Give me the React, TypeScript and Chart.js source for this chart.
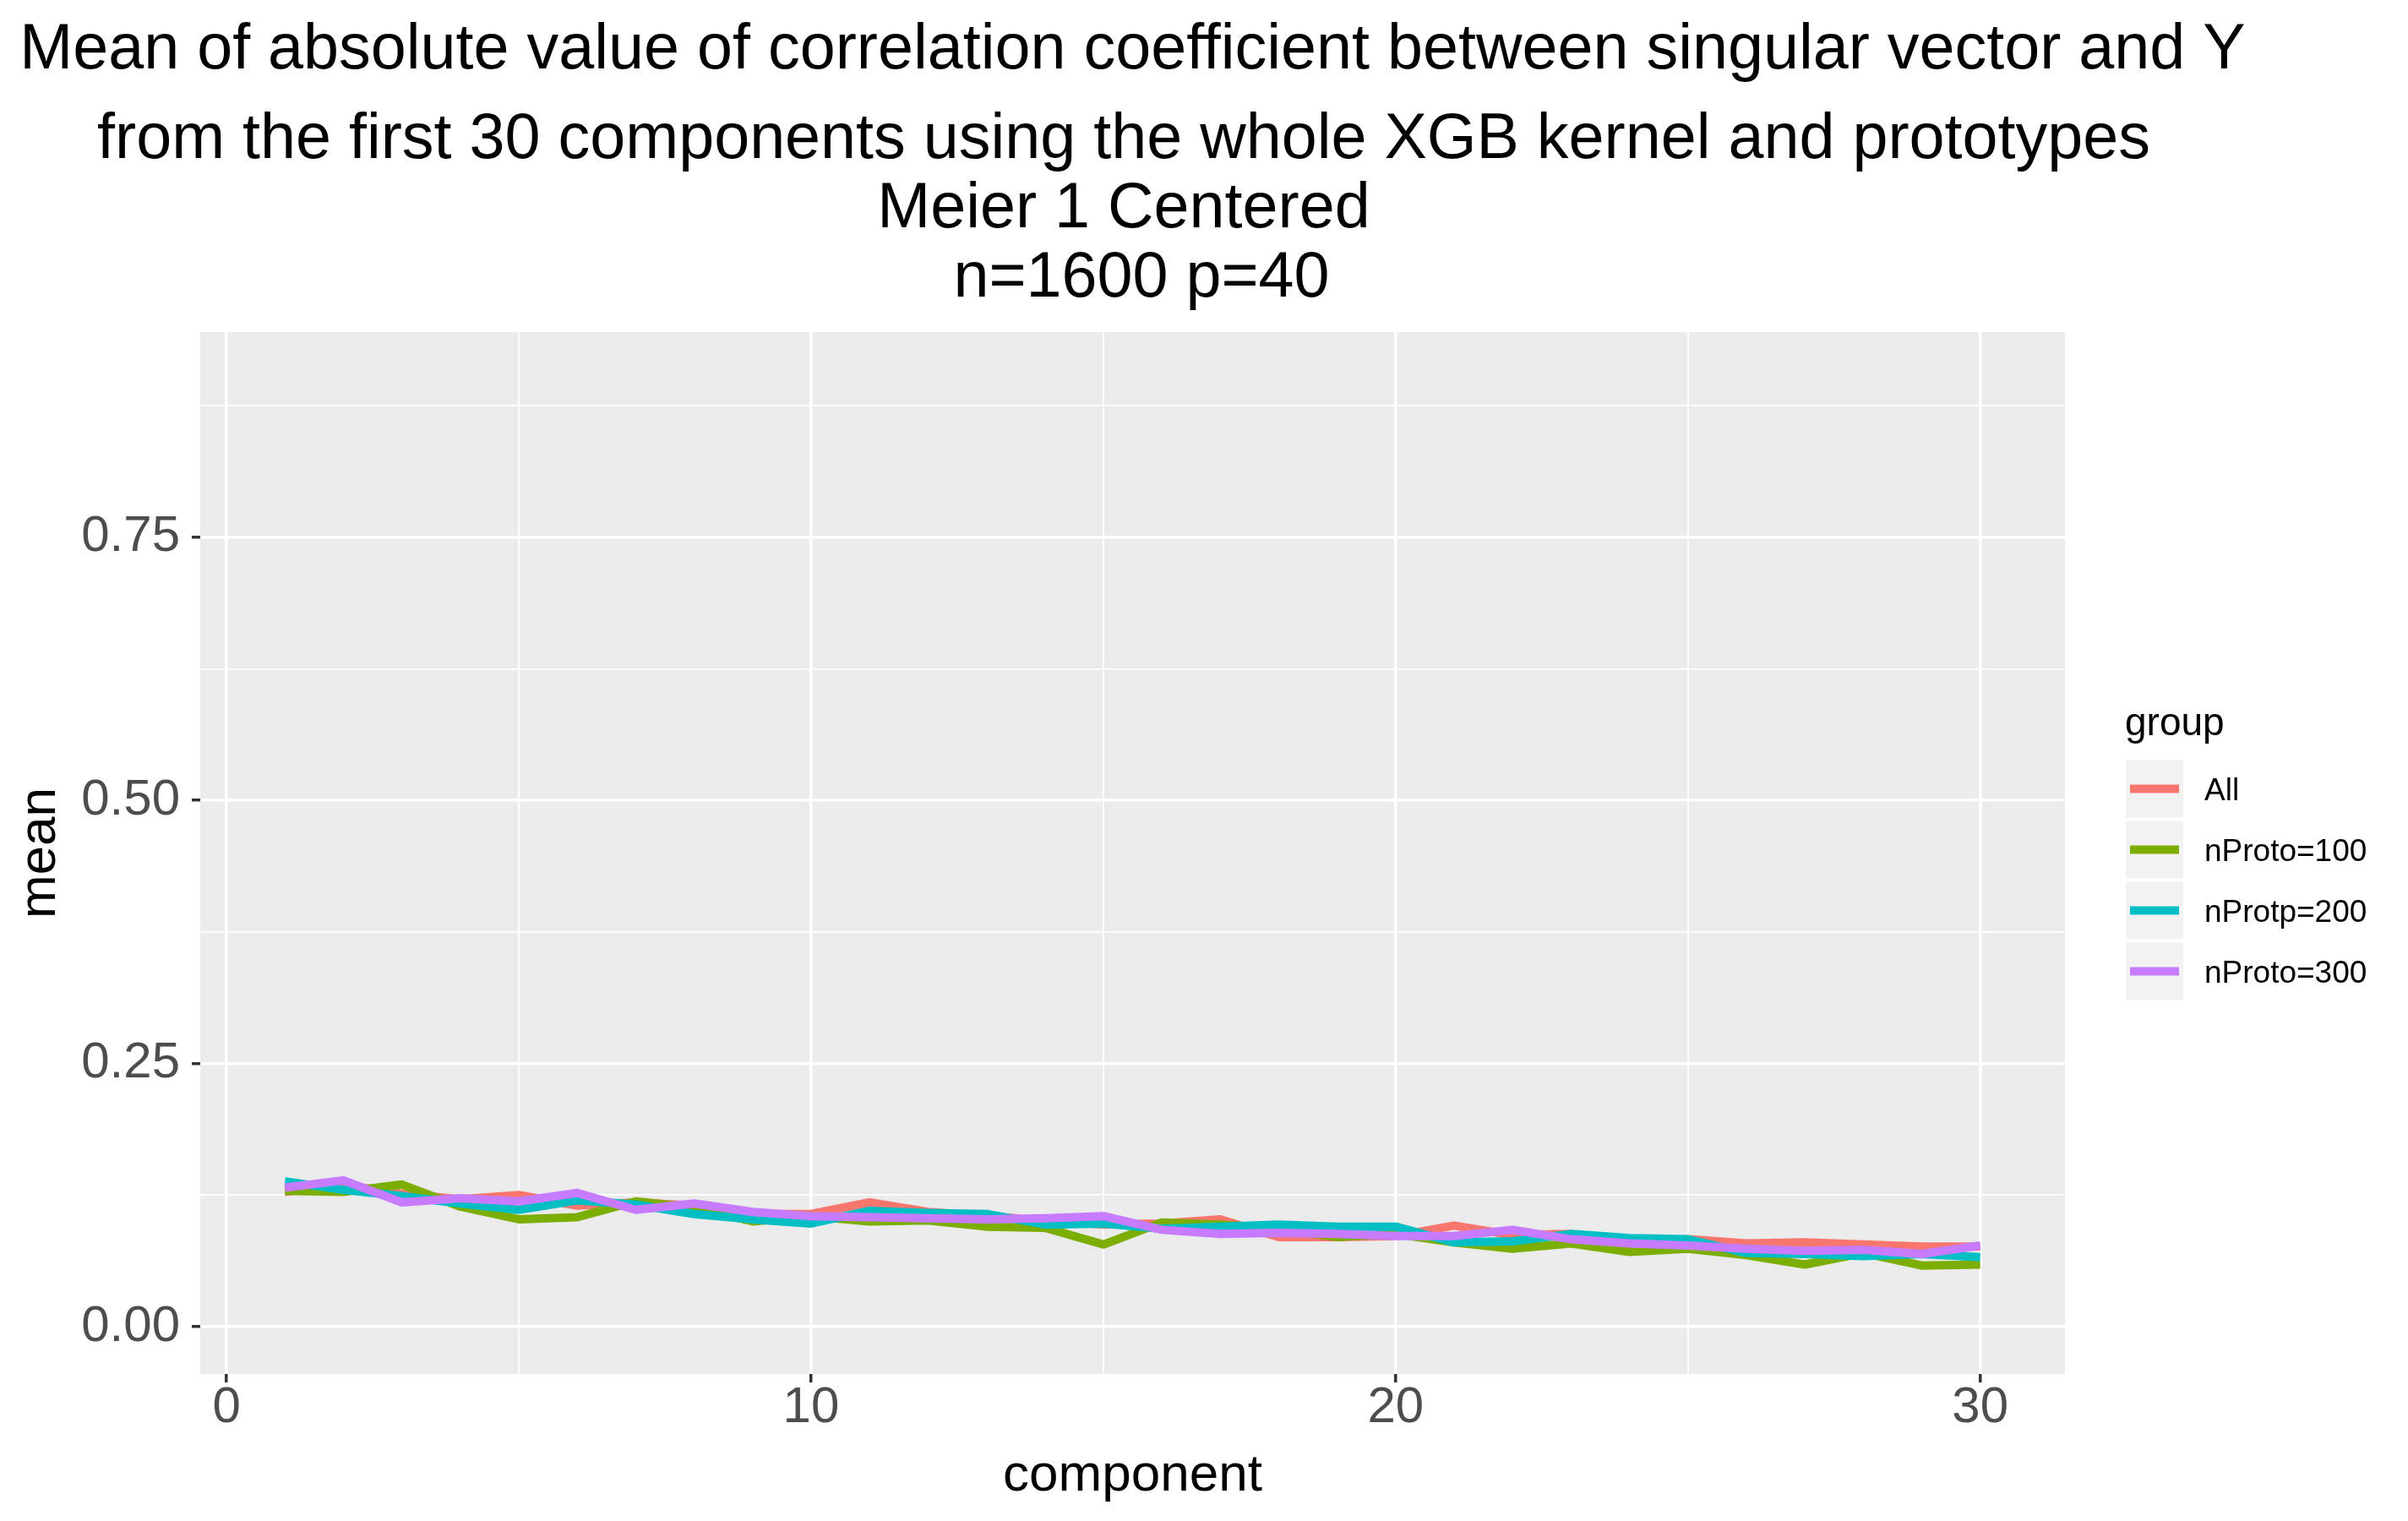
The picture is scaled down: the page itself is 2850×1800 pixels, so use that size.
import React, { useEffect, useRef } from "react";
import { Chart, registerables } from "chart.js";

Chart.register(...registerables);

// data
const components = [1, 2, 3, 4, 5, 6, 7, 8, 9, 10, 11, 12, 13, 14, 15, 16, 17, 18, 19, 20, 21, 22, 23, 24, 25, 26, 27, 28, 29, 30];
const allValues = [0.128, 0.135, 0.126, 0.121, 0.125, 0.115, 0.118, 0.115, 0.107, 0.107, 0.118, 0.109, 0.105, 0.101, 0.097, 0.098, 0.102, 0.085, 0.085, 0.086, 0.096, 0.087, 0.088, 0.079, 0.083, 0.079, 0.080, 0.078, 0.076, 0.076];
const nProto100 = [0.129, 0.128, 0.135, 0.114, 0.102, 0.104, 0.119, 0.113, 0.100, 0.105, 0.100, 0.101, 0.095, 0.094, 0.078, 0.099, 0.097, 0.093, 0.085, 0.088, 0.080, 0.074, 0.079, 0.071, 0.074, 0.068, 0.059, 0.070, 0.058, 0.059];
const nProtp200 = [0.138, 0.130, 0.124, 0.117, 0.111, 0.120, 0.116, 0.107, 0.102, 0.098, 0.110, 0.108, 0.107, 0.097, 0.098, 0.093, 0.095, 0.097, 0.095, 0.095, 0.080, 0.081, 0.088, 0.084, 0.083, 0.070, 0.069, 0.067, 0.069, 0.066];
const nProto300 = [0.132, 0.139, 0.118, 0.122, 0.119, 0.127, 0.111, 0.117, 0.109, 0.105, 0.104, 0.103, 0.102, 0.103, 0.105, 0.092, 0.088, 0.089, 0.088, 0.086, 0.086, 0.092, 0.083, 0.079, 0.077, 0.074, 0.072, 0.073, 0.069, 0.077];

const seriesLabels = ["All", "nProto=100", "nProtp=200", "nProto=300"];
const seriesColors = ["#F8766D", "#7CAE00", "#00BFC4", "#C77CFF"];
const seriesValues = [allValues, nProto100, nProtp200, nProto300];

const xTicks = [0, 5, 10, 15, 20, 25, 30];
const xTickLabels = ["0", "", "10", "", "20", "", "30"];
const yTicks = [0, 0.125, 0.25, 0.375, 0.5, 0.625, 0.75, 0.875];
const yTickLabels = ["0.00", "", "0.25", "", "0.50", "", "0.75", ""];

const titleLine = "Mean of absolute value of correlation coefficient between singular vector and Y";
const subtitleLines = ["from the first 30 components using the whole XGB kernel and prototypes ", "Meier 1 Centered ", " n=1600 p=40"];
const legendTitle = "group";

const FONT = "'Liberation Sans', Arial, Helvetica, sans-serif";

// grey panel behind the grid, like ggplot's theme_gray
const panelBackground = {
  id: "panelBackground",
  beforeDraw(chart: any) {
    const { ctx, chartArea } = chart;
    ctx.save();
    ctx.fillStyle = "#EBEBEB";
    ctx.fillRect(chartArea.left, chartArea.top, chartArea.right - chartArea.left, chartArea.bottom - chartArea.top);
    ctx.restore();
  },
};

// ggplot style legend with grey key boxes
const ggLegend = {
  id: "ggLegend",
  afterDraw(chart: any) {
    const { ctx, chartArea } = chart;
    const x0 = chartArea.right + 72;
    const midY = (chartArea.top + chartArea.bottom) / 2;
    const keySize = 68;
    const keyStep = 72;
    const keysTop = midY - 110;
    ctx.save();
    ctx.fillStyle = "#000000";
    ctx.font = `46px ${FONT}`;
    ctx.textAlign = "left";
    ctx.textBaseline = "alphabetic";
    ctx.fillText(legendTitle, x0 - 1, keysTop - 30);
    chart.data.datasets.forEach((ds: any, i: number) => {
      const top = keysTop + i * keyStep;
      ctx.fillStyle = "#F2F2F2";
      ctx.fillRect(x0, top, keySize, keySize);
      ctx.strokeStyle = ds.borderColor;
      ctx.lineWidth = 10;
      ctx.lineCap = "butt";
      ctx.beginPath();
      ctx.moveTo(x0 + 5, top + keySize / 2);
      ctx.lineTo(x0 + keySize - 5, top + keySize / 2);
      ctx.stroke();
      ctx.fillStyle = "#000000";
      ctx.font = `37px ${FONT}`;
      ctx.textBaseline = "middle";
      ctx.fillText(ds.label, x0 + 93, top + keySize / 2 + 3);
    });
    ctx.restore();
  },
};

const App: React.FC = () => {
  const canvasRef = useRef<HTMLCanvasElement | null>(null);
  const chartRef = useRef<Chart | null>(null);

  useEffect(() => {
    if (!canvasRef.current) return;
    const ctx = canvasRef.current.getContext("2d");
    if (!ctx) return;

    const datasets = seriesLabels.map((label, s) => ({
      label,
      data: components.map((c, i) => ({ x: c, y: seriesValues[s][i] })),
      borderColor: seriesColors[s],
      backgroundColor: seriesColors[s],
      borderWidth: 10,
      borderJoinStyle: "round" as const,
      borderCapStyle: "butt" as const,
      pointRadius: 0,
      tension: 0,
      fill: false,
      order: seriesLabels.length - s, // last group drawn on top
    }));

    chartRef.current = new Chart(ctx, {
      type: "line",
      data: { datasets },
      options: {
        animation: false,
        responsive: true,
        maintainAspectRatio: false,
        devicePixelRatio: 1,
        // right padding + empty right axis leave room for the legend and keep the titles centred on the panel
        layout: { padding: { left: 0, right: 169, top: 0, bottom: 0 } },
        plugins: {
          legend: { display: false },
          tooltip: { enabled: false },
          title: {
            display: true,
            text: titleLine,
            color: "#000000",
            font: { family: FONT, size: 75.5, weight: "normal", lineHeight: "104px" },
            padding: { top: 0, bottom: 13 },
          },
          subtitle: {
            display: true,
            text: subtitleLines,
            color: "#000000",
            font: { family: FONT, size: 75.5, weight: "normal", lineHeight: "82px" },
            padding: { top: 0, bottom: 22 },
          },
        },
        scales: {
          x: {
            type: "linear",
            min: -0.45,
            max: 31.45,
            afterBuildTicks: (scale: any) => {
              scale.ticks = xTicks.map((value) => ({ value }));
            },
            afterFit: (scale: any) => {
              scale.height = 166;
            },
            border: { display: false },
            grid: {
              color: "#FFFFFF",
              lineWidth: (c: any) => (xTickLabels[c.index] ? 3.5 : 1.8),
              tickColor: (c: any) => (xTickLabels[c.index] ? "#333333" : "rgba(0,0,0,0)"),
              tickWidth: 3.5,
              tickLength: 10,
            },
            ticks: {
              autoSkip: false,
              maxRotation: 0,
              padding: 0,
              color: "#4D4D4D",
              font: { family: FONT, size: 60, lineHeight: 1 },
              callback: (_v: any, i: number) => xTickLabels[i],
            },
            title: {
              display: true,
              text: "component",
              color: "#000000",
              font: { family: FONT, size: 62 },
              padding: { top: 0, bottom: 8 },
            },
          },
          y: {
            type: "linear",
            min: -0.045,
            max: 0.945,
            afterBuildTicks: (scale: any) => {
              scale.ticks = yTicks.map((value) => ({ value }));
            },
            afterFit: (scale: any) => {
              scale.width = 229;
            },
            border: { display: false },
            grid: {
              color: "#FFFFFF",
              lineWidth: (c: any) => (yTickLabels[c.index] ? 3.5 : 1.8),
              tickColor: (c: any) => (yTickLabels[c.index] ? "#333333" : "rgba(0,0,0,0)"),
              tickWidth: 3.5,
              tickLength: 10,
            },
            ticks: {
              autoSkip: false,
              padding: 14,
              color: "#4D4D4D",
              font: { family: FONT, size: 60, lineHeight: 1 },
              callback: (_v: any, i: number) => yTickLabels[i],
            },
            title: {
              display: true,
              text: "mean",
              color: "#000000",
              font: { family: FONT, size: 62 },
              padding: { top: 3, bottom: 0 },
            },
          },
          legendSpace: {
            type: "linear",
            position: "right",
            afterFit: (scale: any) => {
              scale.width = 229;
            },
            border: { display: false },
            grid: { display: false },
            ticks: { display: false },
          },
        },
      },
      plugins: [panelBackground, ggLegend],
    });

    return () => {
      if (chartRef.current) {
        chartRef.current.destroy();
        chartRef.current = null;
      }
    };
  }, []);

  return (
    <div style={{ position: "relative", width: "2834px", height: "1784px" }}>
      <canvas ref={canvasRef} />
    </div>
  );
};

export default App;
